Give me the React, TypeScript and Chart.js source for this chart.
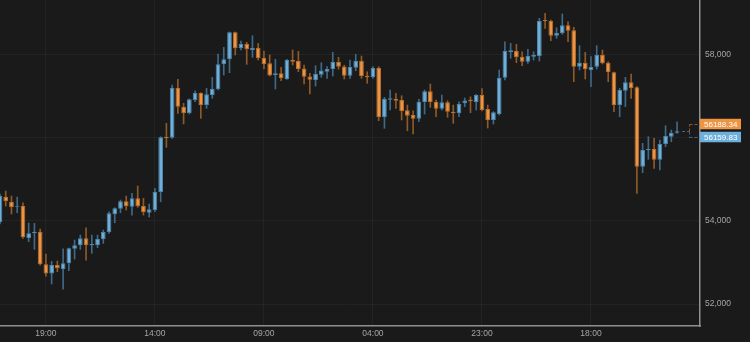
import React, { useEffect, useRef } from 'react';
import { Chart, registerables } from 'chart.js';

Chart.register(...registerables);

// Hourly candles (index 0 = first candle at the left edge)
const openP = [
  53975, 54585, 54464, 54344, 54360, 53589, 53702, 53741, 52955, 52738,
  52938, 52842, 52979, 53331, 53413, 53582, 53413, 53413, 53558, 53727,
  54160, 54295, 54474, 54344, 54546, 54360, 54199, 54264, 54698, 56031,
  56006, 57211, 56754, 56594, 56915, 57084, 56794, 57035, 57173, 57775,
  57896, 58547, 58161, 58265, 58120, 58175, 57934, 57799, 57517, 57558,
  57414, 57879, 57855, 57674, 57481, 57397, 57522, 57597, 57662, 57831,
  57722, 57501, 57693, 57862, 57501, 57462, 57686, 56498, 56922, 56946,
  56915, 56667, 56554, 56464, 56867, 57125, 56874, 56705, 56860, 56633,
  56594, 56835, 56922, 56862, 57035, 56698, 56433, 56578, 57452, 58072,
  58096, 57959, 57838, 57959, 57976, 58843, 58819, 58465, 58522, 58715,
  58595, 57718, 57814, 57638, 57718, 58000, 57814, 57583, 56794, 57139,
  57342, 57221, 55308, 55702, 55734, 55476, 55847, 56031, 56127,
];
const highP = [
  54650, 54722, 54601, 54577, 54440, 53951, 53943, 53806, 53204, 53028,
  53035, 53331, 53345, 53541, 53661, 53837, 53661, 53661, 53782, 54223,
  54320, 54505, 54601, 54666, 54842, 54546, 54409, 54787, 56031, 56353,
  57276, 57414, 56835, 56940, 57139, 57091, 57197, 57462, 58024, 58185,
  58555, 58555, 58337, 58306, 58465, 58282, 58096, 58000, 57896, 57703,
  57896, 58120, 58089, 57759, 57558, 57742, 57814, 57718, 58067, 57944,
  57754, 57879, 58016, 57976, 57597, 57718, 57718, 56980, 57156, 57077,
  57019, 56794, 56657, 56932, 57156, 57301, 56915, 57035, 56898, 56794,
  56874, 56963, 56992, 57048, 57192, 56794, 56633, 57638, 58320, 58282,
  58257, 58079, 58137, 58079, 58884, 59004, 58843, 58658, 58988, 58802,
  58667, 58224, 58065, 57959, 58224, 58120, 57838, 57590, 57197, 57462,
  57542, 57236, 55872, 56031, 55992, 55951, 56296, 56192, 56392,
];
const lowP = [
  53927, 54360, 54168, 54199, 53582, 53500, 53317, 52938, 52673, 52481,
  52777, 52360, 52801, 53083, 53317, 53059, 53220, 53355, 53461, 53702,
  53958, 54199, 54264, 54143, 54329, 54143, 54095, 54223, 54464, 55775,
  55992, 56594, 56337, 56578, 56874, 56474, 56715, 56956, 57156, 57517,
  57573, 58000, 58120, 57775, 57944, 57879, 57662, 57493, 57180, 57380,
  57410, 57759, 57597, 57301, 57060, 57252, 57462, 57438, 57493, 57657,
  57421, 57438, 57621, 57438, 57318, 57438, 56416, 56233, 56674, 56715,
  56433, 56175, 56096, 56392, 56578, 56739, 56513, 56674, 56498, 56353,
  56513, 56754, 56609, 56674, 56650, 56240, 56337, 56554, 57397, 57920,
  57814, 57742, 57799, 57879, 57855, 58643, 58344, 58402, 58498, 58320,
  57356, 57638, 57421, 57236, 57662, 57783, 57356, 56633, 56513, 56754,
  56956, 54666, 55163, 55486, 55269, 55228, 55790, 55910, 56113,
];
const closeP = [
  54601, 54481, 54329, 54368, 53606, 53702, 53741, 52955, 52738, 52938,
  52859, 52979, 53341, 53413, 53582, 53413, 53445, 53565, 53734, 54184,
  54305, 54474, 54353, 54546, 54353, 54209, 54281, 54705, 56016, 55992,
  57211, 56754, 56594, 56932, 57084, 56794, 57052, 57187, 57775, 57896,
  58547, 58161, 58265, 58137, 58175, 57920, 57783, 57505, 57558, 57438,
  57879, 57838, 57655, 57474, 57402, 57541, 57626, 57662, 57831, 57715,
  57498, 57710, 57862, 57493, 57462, 57686, 56498, 56946, 56956, 56898,
  56650, 56537, 56464, 56874, 57125, 56867, 56705, 56860, 56633, 56594,
  56819, 56903, 56886, 57035, 56674, 56433, 56618, 57452, 58096, 58113,
  57944, 57838, 57976, 58000, 58819, 58812, 58465, 58537, 58715, 58585,
  57718, 57814, 57655, 57718, 58000, 57800, 57583, 56794, 57156, 57342,
  57197, 55308, 55710, 55734, 55476, 55855, 56047, 56127, 56160,
];

const xTickIndex = [8, 27, 46, 65, 84, 103];
const xTickLabels = ['19:00', '14:00', '09:00', '04:00', '23:00', '18:00'];
const yTickValues = [52000, 54000, 56000, 58000];
const askPrice = 56188.34;
const lastPrice = 56159.83;

const UP = '#6eb0db';
const DOWN = '#ee9443';
const UP_EDGE = '#4f86a8';
const DOWN_EDGE = '#b8702f';
const UP_WICK = '#3f6986';
const DOWN_WICK = '#8e5a28';
const BG = '#1a1a1a';
const FONT = '"Liberation Sans", Arial, sans-serif';

const isUp = (i: number) => closeP[i] >= openP[i];

const priceTagPlugin = {
  id: 'priceTags',
  afterDraw(chart: any) {
    const { ctx, chartArea, scales } = chart;
    const ys = scales.y;
    const xs = scales.x;
    const yA = ys.getPixelForValue(askPrice);
    const yL = ys.getPixelForValue(lastPrice);
    const mid = (yA + yL) / 2;
    const lastIdx = closeP.length - 1;
    const xLast = xs.getPixelForValue(lastIdx);
    const xBr = Math.round(xs.getPixelForValue(lastIdx + 2)) + 0.5;
    const right = chartArea.right;
    const boxW = 41;
    const boxH = 10.5;
    const oTop = mid - 12;
    const bTop = mid + 1;
    const oC = Math.round(oTop + boxH / 2) + 0.5;
    const bC = Math.round(bTop + boxH / 2) + 0.5;
    const m = Math.round(mid) + 0.5;

    ctx.save();
    ctx.lineWidth = 1;
    ctx.setLineDash([3, 2]);
    const seg = (x1: number, y1: number, x2: number, y2: number, c: string) => {
      ctx.strokeStyle = c;
      ctx.beginPath();
      ctx.moveTo(x1, y1);
      ctx.lineTo(x2, y2);
      ctx.stroke();
    };
    seg(xLast + 5, m, xBr, m, UP_WICK);
    seg(xBr, m, xBr, oC, DOWN_WICK);
    seg(xBr, m, xBr, bC, UP_WICK);
    seg(xBr, oC, right, oC, DOWN_WICK);
    seg(xBr, bC, right, bC, UP_WICK);
    ctx.setLineDash([]);

    ctx.fillStyle = DOWN;
    ctx.fillRect(right, oTop, boxW, boxH);
    ctx.fillStyle = UP;
    ctx.fillRect(right, bTop, boxW, boxH);
    ctx.font = `8px ${FONT}`;
    ctx.fillStyle = '#ffffff';
    ctx.textBaseline = 'middle';
    ctx.textAlign = 'left';
    ctx.fillText(askPrice.toFixed(2), right + 4, oTop + boxH / 2 + 0.5);
    ctx.fillText(lastPrice.toFixed(2), right + 4, bTop + boxH / 2 + 0.5);
    ctx.restore();
  },
};

export default function App() {
  const ref = useRef<HTMLCanvasElement | null>(null);

  useEffect(() => {
    document.body.style.margin = '0';
    document.body.style.background = BG;
    if (!ref.current) return;
    const chart = new Chart(ref.current, {
      type: 'bar',
      data: {
        datasets: [
          {
            label: 'body',
            data: openP.map((o, i) => ({ x: i, y: [o, closeP[i]] })) as any,
            backgroundColor: (c: any) => (isUp(c.dataIndex) ? UP : DOWN),
            borderColor: (c: any) => (isUp(c.dataIndex) ? UP_EDGE : DOWN_EDGE),
            borderWidth: 1,
            borderSkipped: false,
            barPercentage: 0.82,
            categoryPercentage: 1,
            grouped: false,
            order: 1,
          } as any,
          {
            label: 'wick',
            data: lowP.map((l, i) => ({ x: i, y: [l, highP[i]] })) as any,
            backgroundColor: (c: any) => (isUp(c.dataIndex) ? UP_WICK : DOWN_WICK),
            borderWidth: 0,
            barThickness: 1,
            grouped: false,
            order: 2,
          } as any,
        ],
      },
      options: {
        animation: false,
        responsive: true,
        maintainAspectRatio: false,
        layout: { padding: 0 },
        plugins: { legend: { display: false }, tooltip: { enabled: false } },
        scales: {
          x: {
            type: 'linear',
            min: 0,
            max: 122,
            offset: false,
            afterBuildTicks: (s: any) => {
              s.ticks = xTickIndex.map((v) => ({ value: v }));
            },
            afterFit: (s: any) => {
              s.height = 16;
              s.paddingLeft = 0;
              s.paddingRight = 0;
            },
            ticks: {
              autoSkip: false,
              maxRotation: 0,
              padding: 3,
              color: '#a6a6a6',
              font: { family: FONT, size: 8.5 },
              callback: (v: any) => {
                const k = xTickIndex.indexOf(Number(v));
                return k >= 0 ? xTickLabels[k] : '';
              },
            },
            grid: { color: 'rgba(255,255,255,0.045)', drawTicks: false, offset: false },
            border: { display: true, color: '#8f8f8f', width: 1.5 },
          },
          y: {
            type: 'linear',
            position: 'right',
            min: 51470,
            max: 59325,
            afterBuildTicks: (s: any) => {
              s.ticks = yTickValues.map((v) => ({ value: v }));
            },
            afterFit: (s: any) => {
              s.width = 50;
              s.paddingTop = 0;
              s.paddingBottom = 0;
            },
            ticks: {
              padding: 5,
              color: '#a6a6a6',
              font: { family: FONT, size: 8.5 },
              callback: (v: any) => {
                const n = Number(v);
                if (Math.abs(n - lastPrice) < 600) return '';
                return n.toLocaleString('en-US');
              },
            },
            grid: { color: 'rgba(255,255,255,0.045)', drawTicks: false },
            border: { display: true, color: '#8f8f8f', width: 1.5 },
          },
        },
      } as any,
      plugins: [priceTagPlugin],
    });
    return () => chart.destroy();
  }, []);

  return (
    <div style={{ width: 750, height: 342, background: BG, position: 'relative' }}>
      <canvas ref={ref} />
    </div>
  );
}
